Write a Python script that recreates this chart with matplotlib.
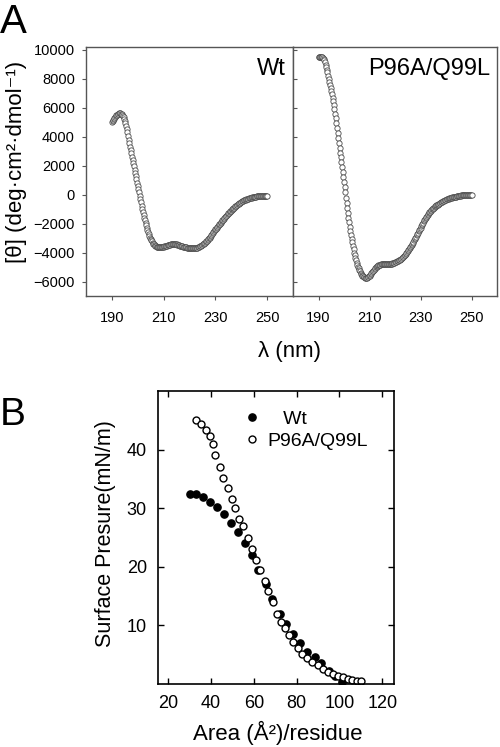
import numpy as np
import matplotlib
matplotlib.use("Agg")
import matplotlib.pyplot as plt

plt.rcParams['font.family'] = ['Liberation Sans', 'DejaVu Sans']

# ---------------- Panel A data (CD spectra), 0.25 nm steps ----------------
wavelength = np.arange(190.0, 250.01, 0.25)

wt_cd = [
    5000, 5080, 5150, 5230,
    5300, 5360, 5420, 5470,
    5520, 5560, 5600, 5630,
    5640, 5630, 5600, 5560,
    5500, 5430, 5350, 5240,
    5100, 4940, 4750, 4540,
    4300, 4060, 3800, 3550,
    3300, 3080, 2850, 2630,
    2400, 2180, 1950, 1730,
    1500, 1280, 1050, 830,
    600, 380, 150, -80,
    -300, -530, -750, -980,
    -1200, -1400, -1600, -1780,
    -1950, -2130, -2300, -2450,
    -2600, -2730, -2850, -2960,
    -3050, -3140, -3230, -3310,
    -3380, -3440, -3490, -3540,
    -3570, -3600, -3620, -3630,
    -3640, -3640, -3640, -3640,
    -3630, -3620, -3610, -3600,
    -3590, -3580, -3560, -3550,
    -3530, -3520, -3500, -3490,
    -3470, -3460, -3450, -3440,
    -3430, -3430, -3420, -3410,
    -3410, -3410, -3420, -3430,
    -3440, -3460, -3470, -3490,
    -3500, -3520, -3530, -3550,
    -3560, -3580, -3590, -3600,
    -3610, -3620, -3630, -3640,
    -3650, -3660, -3660, -3670,
    -3670, -3680, -3680, -3690,
    -3690, -3690, -3690, -3690,
    -3680, -3680, -3670, -3660,
    -3650, -3640, -3620, -3600,
    -3580, -3560, -3530, -3500,
    -3470, -3440, -3400, -3360,
    -3320, -3280, -3230, -3180,
    -3130, -3080, -3020, -2960,
    -2900, -2840, -2780, -2720,
    -2650, -2590, -2520, -2460,
    -2400, -2340, -2280, -2230,
    -2170, -2120, -2060, -2010,
    -1950, -1900, -1840, -1780,
    -1720, -1670, -1610, -1560,
    -1500, -1450, -1400, -1350,
    -1300, -1250, -1200, -1150,
    -1100, -1050, -1010, -970,
    -930, -890, -850, -810,
    -770, -730, -700, -660,
    -630, -590, -560, -530,
    -500, -470, -450, -420,
    -400, -380, -360, -340,
    -320, -300, -290, -270,
    -260, -240, -230, -210,
    -200, -190, -180, -170,
    -160, -150, -140, -130,
    -120, -115, -110, -105,
    -100, -95, -90, -85,
    -80, -75, -70, -70,
    -70, -65, -60, -60,
    -60,
]

mut_cd = [
    9500, 9510, 9520, 9520,
    9520, 9510, 9500, 9460,
    9400, 9290, 9150, 8980,
    8800, 8630, 8450, 8230,
    8000, 7800, 7600, 7380,
    7150, 6930, 6700, 6450,
    6200, 5910, 5600, 5280,
    4950, 4600, 4250, 3900,
    3550, 3220, 2900, 2570,
    2250, 1900, 1550, 1200,
    850, 500, 150, -200,
    -550, -900, -1250, -1580,
    -1900, -2200, -2500, -2780,
    -3050, -3300, -3550, -3780,
    -4000, -4190, -4380, -4540,
    -4700, -4840, -4980, -5090,
    -5200, -5290, -5380, -5460,
    -5530, -5590, -5640, -5680,
    -5720, -5740, -5760, -5760,
    -5740, -5710, -5680, -5640,
    -5590, -5540, -5480, -5420,
    -5360, -5300, -5240, -5180,
    -5120, -5060, -5010, -4970,
    -4930, -4900, -4870, -4850,
    -4840, -4830, -4820, -4810,
    -4810, -4800, -4800, -4800,
    -4800, -4800, -4800, -4800,
    -4800, -4790, -4790, -4780,
    -4780, -4770, -4770, -4760,
    -4750, -4740, -4720, -4700,
    -4680, -4660, -4630, -4600,
    -4570, -4550, -4520, -4500,
    -4480, -4450, -4410, -4370,
    -4330, -4290, -4240, -4190,
    -4140, -4090, -4030, -3970,
    -3910, -3850, -3780, -3710,
    -3640, -3570, -3490, -3410,
    -3330, -3250, -3160, -3080,
    -2990, -2900, -2810, -2720,
    -2630, -2540, -2450, -2360,
    -2270, -2190, -2100, -2020,
    -1930, -1850, -1770, -1700,
    -1620, -1550, -1480, -1410,
    -1350, -1290, -1230, -1170,
    -1120, -1070, -1020, -970,
    -930, -890, -850, -810,
    -780, -740, -710, -680,
    -650, -620, -590, -560,
    -530, -500, -480, -450,
    -430, -410, -390, -370,
    -350, -330, -310, -290,
    -280, -260, -250, -230,
    -220, -200, -190, -180,
    -170, -160, -150, -140,
    -130, -120, -110, -100,
    -90, -80, -70, -60,
    -50, -45, -40, -35,
    -30, -25, -20, -15,
    -10, -5, 0, 0,
    0, 0, 0, 0,
    0,
]

cd_xticks = [190, 210, 230, 250]
cd_yticks = [-6000, -4000, -2000, 0, 2000, 4000, 6000, 8000, 10000]
cd_names = ["Wt", "P96A/Q99L"]

# ---------------- Panel B data (isotherms) ----------------
wt_area = [30, 33, 36, 39.5, 43, 46, 49.5, 52.5, 56, 59, 62, 65.5, 68.5, 72,
           75, 78.5, 81.5, 85, 88.5, 91.5, 95, 98, 101]
wt_press = [32.5, 32.4, 31.9, 31.0, 30.2, 29.0, 27.5, 26.0, 24.0, 22.0, 19.5,
            17.0, 14.5, 12.0, 10.2, 8.5, 7.0, 5.5, 4.6, 3.5, 2.3, 1.3, 0.4]

mut_area = [33, 35.5, 37.5, 39.5, 40.8, 42, 44, 45.8, 47.7, 49.6, 51.3, 53.2,
            55.1, 57.1, 59, 61.2, 63.1, 65.1, 66.8, 68.9, 70.9, 72.5, 74.4,
            76.2, 78.4, 80.6, 82.5, 84.7, 87.2, 89.8, 92.2, 94.6, 97, 99.5,
            101.8, 104, 106, 108, 110]
mut_press = [45.0, 44.3, 43.4, 42.3, 41.0, 39.0, 37.0, 35.2, 33.5, 31.6, 30.0,
             28.1, 26.9, 25.0, 23.1, 21.1, 19.4, 17.5, 15.8, 14.0, 12.0, 10.6,
             9.6, 8.3, 7.2, 6.2, 5.2, 4.5, 3.8, 3.2, 2.6, 2.1, 1.7, 1.4, 1.2,
             0.9, 0.7, 0.5, 0.5]

iso_xticks = [20, 40, 60, 80, 100, 120]
iso_yticks = [10, 20, 30, 40]

W, H = 500, 747
fig = plt.figure(figsize=(W / 100, H / 100), dpi=100)


def rect(x0, y0, x1, y1):
    return [x0 / W, 1 - y1 / H, (x1 - x0) / W, (y1 - y0) / H]


axA1 = fig.add_axes(rect(86, 47, 293, 296))
axA2 = fig.add_axes(rect(293, 47, 497, 296))

spine_col = '#555555'
for ax, data, name, tx in [(axA1, wt_cd, cd_names[0], 0.966),
                           (axA2, mut_cd, cd_names[1], 0.969)]:
    ax.plot(wavelength, data, linestyle='none', marker='o', markersize=3.8,
            markerfacecolor='white', markeredgecolor='#4a4a4a',
            markeredgewidth=0.6)
    ax.set_xlim(180, 260)
    ax.set_ylim(-7000, 10200)
    ax.set_xticks(cd_xticks)
    ax.set_yticks(cd_yticks)
    for s in ax.spines.values():
        s.set_color(spine_col)
        s.set_linewidth(1.0)
    ax.tick_params(axis='x', direction='out', length=3, width=0.8,
                   color=spine_col, labelsize=10.5, pad=8)
    ax.text(tx, 0.888, name, transform=ax.transAxes,
            ha='right', va='baseline', fontsize=17)

axA1.tick_params(axis='y', direction='out', length=3, width=0.8,
                 color=spine_col, labelsize=10.5, pad=5)
axA2.tick_params(axis='y', direction='in', length=3, width=0.8,
                 color=spine_col, labelleft=False)

fig.text(17 / W, 1 - 162 / H, '[θ] (deg·cm²·dmol⁻¹)', rotation=90,
         ha='center', va='center', fontsize=16)
fig.text(290 / W, 1 - 351 / H, 'λ (nm)', ha='center', va='center', fontsize=16)
fig.text(0, 1 - 3 / H, 'A', ha='left', va='top', fontsize=29)

# ---------------- Panel B ----------------
axB = fig.add_axes(rect(158, 391, 394, 684))
axB.plot(wt_area, wt_press, linestyle='none', marker='o', markersize=5.2,
         markerfacecolor='black', markeredgecolor='black',
         markeredgewidth=1.0, label='   Wt')
axB.plot(mut_area, mut_press, linestyle='none', marker='o', markersize=5.0,
         markerfacecolor='white', markeredgecolor='black',
         markeredgewidth=1.0, label='P96A/Q99L')
axB.set_xlim(15.2, 125.5)
axB.set_ylim(0, 50)
axB.set_xticks(iso_xticks)
axB.set_yticks(iso_yticks)
for s in axB.spines.values():
    s.set_linewidth(1.2)
axB.tick_params(direction='in', length=4, width=1.0, labelsize=13,
                top=True, right=True, pad=8)
axB.legend(loc='upper left', bbox_to_anchor=(0.365, 0.935), frameon=False,
           fontsize=14, handlelength=0.8, handletextpad=0.4,
           borderpad=0, borderaxespad=0, labelspacing=0.25)

fig.text(105 / W, 1 - 534 / H, 'Surface Presure(mN/m)', rotation=90,
         ha='center', va='center', fontsize=15.5)
fig.text(278 / W, 1 - 733 / H, 'Area (Å²)/residue', ha='center', va='center',
         fontsize=16)
fig.text(0, 1 - 397 / H, 'B', ha='left', va='top', fontsize=28)

fig.savefig('out.png', dpi=100)
